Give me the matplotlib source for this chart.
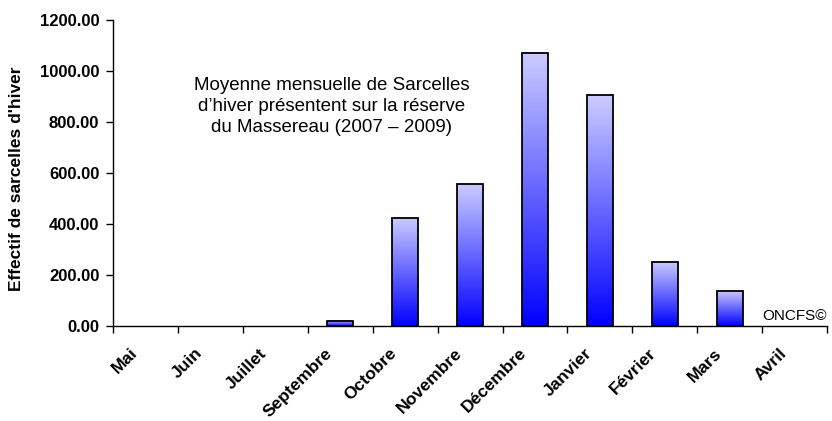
import numpy as np
import matplotlib.pyplot as plt
import matplotlib.transforms as mtransforms
from matplotlib.colors import LinearSegmentedColormap

# données
mois = ['Mai', 'Juin', 'Juillet', 'Septembre', 'Octobre', 'Novembre',
        'Décembre', 'Janvier', 'Février', 'Mars', 'Avril']
effectifs = [0, 0, 0, 20, 425, 558, 1072, 905, 252, 138, 0]
yticks = [0, 200, 400, 600, 800, 1000, 1200]

plt.rcParams['font.family'] = ['Liberation Sans', 'DejaVu Sans']

fig = plt.figure(figsize=(8.32, 4.21), dpi=100)
ax = fig.add_axes([0.136, 0.2257, 0.858, 0.7268])

cmap = LinearSegmentedColormap.from_list('grad', ['#0000ff', '#ccccff'])
grad = np.linspace(0, 1, 256).reshape(-1, 1)

x = np.arange(len(mois))
# les mois à zéro n'ont pas de barre visible
hauteurs = [v if v > 0 else np.nan for v in effectifs]
bars = ax.bar(x, hauteurs, width=0.4, facecolor='none', edgecolor='black',
              linewidth=1.3, zorder=3)
for b in bars:
    h = b.get_height()
    if not h > 0:
        continue
    x0 = b.get_x()
    ax.imshow(grad, extent=[x0, x0 + b.get_width(), 0, h], origin='lower',
              aspect='auto', cmap=cmap, zorder=2)

ax.set_xlim(-0.5, len(mois) - 0.5)
ax.set_ylim(0, 1200)

for s in ['top', 'right']:
    ax.spines[s].set_visible(False)
ax.spines['left'].set_linewidth(1.0)
ax.spines['bottom'].set_linewidth(1.0)

ax.set_yticks(yticks)
ax.set_yticklabels([f'{v:.2f}' for v in yticks], fontsize=12, fontweight='bold')
ax.tick_params(axis='y', direction='out', length=5, width=1, pad=5)

ax.set_xticks(x)
ax.set_xticklabels(mois, rotation=45, ha='right', rotation_mode='anchor',
                   fontsize=12.5, fontweight='bold')
ax.tick_params(axis='x', which='major', length=0, pad=14)
decal = mtransforms.ScaledTranslation(-0.16, 0, fig.dpi_scale_trans)
for lab in ax.get_xticklabels():
    lab.set_transform(lab.get_transform() + decal)
ax.set_xticks(np.arange(-0.5, len(mois)), minor=True)
ax.tick_params(axis='x', which='minor', direction='out', length=5, width=1)

ax.set_ylabel("Effectif de sarcelles d'hiver", fontsize=12.5,
              fontweight='bold')
ax.yaxis.set_label_coords(-0.125, 0.48)

ax.text(2.87, 862, "Moyenne mensuelle de Sarcelles\nd’hiver présentent sur la réserve\n"
        "du Massereau (2007 – 2009)", ha='center', va='center', fontsize=13.5,
        linespacing=1.3)
ax.text(10.5, 12, 'ONCFS©', ha='right', va='bottom', fontsize=11)

fig.savefig('out.png', dpi=100)
